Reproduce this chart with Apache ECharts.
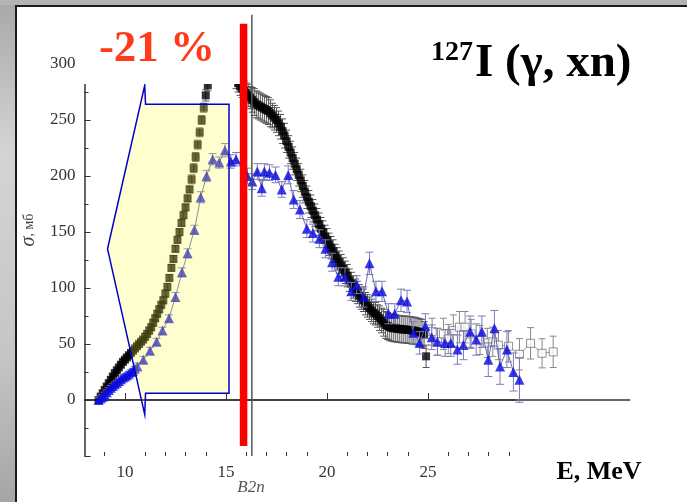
<!DOCTYPE html>
<html>
<head>
<meta charset="utf-8">
<script src="https://cdn.jsdelivr.net/npm/echarts@6/dist/echarts.min.js"></script>
<style>
html, body { margin: 0; padding: 0; background: #b9b9b9; }
#chart { width: 687px; height: 502px; }
</style>
</head>
<body>
<div id="chart"></div>
<script>
// ============================================
// 127I (γ, xn) — cross section vs energy
// ============================================

// black squares (evaluated), E in MeV, sigma in mb
const blackE = [
    8.7, 8.8, 8.9, 9.0, 9.1, 9.2, 9.3, 9.4, 9.5, 9.6,
    9.7, 9.8, 9.9, 10.0, 10.1, 10.2, 10.3, 10.4, 10.5, 10.6,
    10.7, 10.8, 10.9, 11.0, 11.1, 11.2, 11.3, 11.4, 11.5, 11.6,
    11.7, 11.8, 11.9, 12.0, 12.1, 12.2, 12.3, 12.4, 12.5, 12.6,
    12.7, 12.8, 12.9, 13.0, 13.1, 13.2, 13.3, 13.4, 13.5, 13.6,
    13.7, 13.8, 13.9, 14.0, 14.1, 14.2, 14.3, 14.4, 14.5, 14.6,
    14.7, 14.8, 14.9, 15.0, 15.1, 15.2, 15.3, 15.4, 15.5, 15.6,
    15.7, 15.8, 15.9, 16.0, 16.1, 16.2, 16.3, 16.4, 16.5, 16.6,
    16.7, 16.8, 16.9, 17.0, 17.1, 17.2, 17.3, 17.4, 17.5, 17.6,
    17.7, 17.8, 17.9, 18.0, 18.1, 18.2, 18.3, 18.4, 18.5, 18.6,
    18.7, 18.8, 18.9, 19.0, 19.1, 19.2, 19.3, 19.4, 19.5, 19.6,
    19.7, 19.8, 19.9, 20.0, 20.1, 20.2, 20.3, 20.4, 20.5, 20.6,
    20.7, 20.8, 20.9, 21.0, 21.1, 21.2, 21.3, 21.4, 21.5, 21.6,
    21.7, 21.8, 21.9, 22.0, 22.1, 22.2, 22.3, 22.4, 22.5, 22.6,
    22.7, 22.8, 22.9, 23.0, 23.1, 23.2, 23.3, 23.4, 23.5, 23.6,
    23.7, 23.8, 23.9, 24.0, 24.1, 24.2, 24.3, 24.4, 24.5, 24.6,
    24.7, 24.8, 24.9
];
const blackSigma = [
    0, 3, 6, 9, 12, 15, 18, 21, 24, 26.5,
    29, 31.5, 34, 36, 38, 40, 42, 44, 46, 48,
    50, 52, 54, 56.5, 59, 62, 65, 69, 73, 77,
    81, 85, 89, 95, 101, 109, 118, 126, 135, 143,
    150, 158, 165, 172, 180, 188, 197, 207, 217, 228,
    239, 250, 261, 272, 281, 288, 293, 296, 298, 299,
    300, 300, 299, 298, 297, 295, 293, 290, 286, 283,
    280, 278, 276, 274, 272, 270, 268, 266, 264, 263,
    262, 261, 260, 259, 258, 256, 254, 252, 250, 247,
    244, 240, 236, 231, 226, 221, 216, 211, 206, 201,
    196, 191, 186, 181, 177, 173, 169, 165, 161, 157,
    153, 150, 146, 143, 139, 136, 133, 129, 126, 123,
    120, 117, 114, 111, 107, 104, 101, 98, 96, 93,
    91, 89, 86, 84, 82, 80, 78, 77, 75, 73,
    71, 69, 67, 66, 65, 64.5, 64, 64, 63.5, 63.5,
    63, 63, 63, 62.5, 62.5, 62, 62, 61.5, 61, 60.5,
    60, 58, 39
];
const blackErr = [
    2, 2, 2, 2, 2, 2, 2, 2, 2, 2,
    2, 2, 2, 2, 2, 2, 2, 2, 2, 2,
    2, 2, 2, 3, 3, 3, 3, 3, 3, 3,
    3, 3, 3, 3, 3, 3, 3, 3, 3, 3,
    3, 3, 3, 3, 3, 3, 4, 4, 4, 4,
    4, 4, 4, 5, 5, 5, 5, 5, 6, 6,
    6, 6, 6, 6, 6, 6, 7, 7, 8, 8,
    8, 8, 9, 9, 10, 10, 11, 12, 12, 12,
    12, 12, 12, 12, 12, 12, 11, 11, 11, 11,
    11, 11, 11, 10, 10, 10, 10, 10, 10, 10,
    10, 10, 10, 10, 10, 10, 10, 10, 10, 10,
    10, 10, 10, 10, 10, 10, 10, 10, 10, 10,
    10, 10, 10, 10, 10, 10, 10, 10, 10, 10,
    10, 10, 10, 10, 10, 10, 10, 10, 10, 11,
    11, 12, 12, 12, 12, 12, 12, 12, 12, 12,
    12, 12, 12, 12, 12, 12, 12, 12, 12, 12,
    12, 12, 10
];

// open squares (high energy tail)
const openE = [25.2, 25.47, 25.76, 26.0, 26.25, 26.55, 26.83, 27.13, 27.57, 27.93, 28.2, 28.48, 28.98, 29.52, 30.07, 30.64, 31.19];
const openSigma = [61, 52, 59, 54.5, 62, 65, 65, 59, 53.6, 51, 52, 49, 48, 40.8, 50.6, 41.7, 43];
const openErr = [12, 12, 14, 13, 14, 14, 14, 13, 13, 13, 13, 13, 14, 14, 14, 13, 14];

// blue triangles (experiment)
const blueE = [
    8.7, 8.8, 8.9, 9.0, 9.1, 9.2, 9.3, 9.4, 9.5, 9.6, 9.7, 9.8, 9.9, 10.0, 10.1, 10.2, 10.3, 10.4, 10.5,
    10.62, 10.91, 11.24, 11.57, 11.86, 12.18, 12.5, 12.82, 13.1, 13.44, 13.75, 14.04, 14.34, 14.67, 14.95, 15.24, 15.5,
    16.06, 16.3, 16.55, 16.77, 16.9, 17.15, 17.45, 17.76, 18.08, 18.35,
    18.66, 19.0, 19.3, 19.62, 19.92, 20.25, 20.56, 20.89, 21.2, 21.47,
    21.8, 22.1, 22.42, 22.72, 23.04, 23.35, 23.66, 23.96, 24.27, 24.58,
    24.87, 25.18, 25.46, 25.84, 26.12, 26.45, 26.75, 27.08, 27.38, 27.66,
    27.98, 28.28, 28.56, 28.9, 29.22, 29.52
];
const blueSigma = [
    0, 1.5, 3, 5, 7, 9, 11, 12.5, 14, 15.5, 17, 18.5, 20, 21, 22, 23.5, 25, 26, 28,
    30, 36, 44, 52, 62, 73, 92, 114, 131, 152, 181, 200, 215, 212, 223, 213, 215,
    200, 195, 204, 189, 204, 203, 201, 188, 201, 179,
    170, 153, 149, 144, 135, 123, 110, 110, 97, 103,
    92, 122, 97, 97, 77, 77, 89, 88, 60, 51,
    66, 56, 52, 51, 51, 45, 49, 61, 54, 61,
    36, 64, 30, 45, 25, 18
];
const blueErr = [
    2, 2, 2, 2, 2, 2, 2, 2, 2, 2, 2, 2, 2, 2, 2, 2, 2, 2, 2,
    3, 3, 3, 3, 3, 3, 4, 4, 4, 4, 5, 5, 5, 5, 6, 6, 6,
    7, 7, 7, 7, 7, 7, 7, 7, 8, 8,
    8, 8, 8, 8, 8, 8, 8, 8, 8, 8,
    9, 10, 9, 9, 9, 9, 10, 10, 10, 10,
    11, 11, 12, 12, 12, 13, 13, 14, 14, 14,
    15, 16, 16, 16, 17, 20
];

// yellow arrow callout (points in E, sigma)
const arrowE = [11.02, 15.15, 15.15, 11.02, 10.98, 9.14, 10.98];
const arrowSigma = [264, 264, 6, 6, -13, 135, 281];

// reference lines
const zeroLineE = [8, 35];
const zeroLineSigma = [0, 0];
const b2nE = [16.28, 16.28];
const b2nSigma = [-50, 344];
const redE = [15.87, 15.87];
const redSigma = [-41, 336];

// axis ticks
const xMajor = [10, 15, 20, 25];
const xMinor = [9, 11, 12, 13, 14, 16, 17, 18, 19, 21, 22, 23, 24, 26, 27, 28, 29];

const SERIF = '"Liberation Serif", "DejaVu Serif", serif';

const pairs = (xs, ys, es) => xs.map((x, i) => es ? [x, ys[i], es[i]] : [x, ys[i]]);

// error bars with caps
function errorBars(color, capHalf) {
    return function (params, api) {
        const x = api.value(0), y = api.value(1), e = api.value(2);
        const hi = api.coord([x, y + e]);
        const lo = api.coord([x, y - e]);
        const st = { stroke: color, lineWidth: 1 };
        return {
            type: 'group',
            children: [
                { type: 'line', shape: { x1: hi[0], y1: hi[1], x2: lo[0], y2: lo[1] }, style: st },
                { type: 'line', shape: { x1: hi[0] - capHalf, y1: hi[1], x2: hi[0] + capHalf, y2: hi[1] }, style: st },
                { type: 'line', shape: { x1: lo[0] - capHalf, y1: lo[1], x2: lo[0] + capHalf, y2: lo[1] }, style: st }
            ]
        };
    };
}

// one polyline through all points, not clipped to the grid
function polylineSeries(xs, ys, z, style) {
    return {
        type: 'custom', z: z, clip: false, silent: true,
        encode: { x: 0, y: 1 },
        data: [[xs[0], ys[0]]],
        renderItem: function (params, api) {
            return {
                type: 'polyline',
                shape: { points: xs.map((x, i) => api.coord([x, ys[i]])) },
                style: Object.assign({ fill: null }, style)
            };
        }
    };
}

const chart = echarts.init(document.getElementById('chart'));

chart.setOption({
    animation: false,
    backgroundColor: '#ffffff',
    grid: { left: 84.5, right: 172, top: 64, bottom: 46, containLabel: false, outerBoundsMode: 'none' },
    xAxis: [{
        type: 'value', min: 8, max: 29.3,
        axisLine: { lineStyle: { color: '#333', width: 1.5 } },
        axisTick: { inside: true, length: 7, customValues: xMajor, lineStyle: { color: '#333' } },
        axisLabel: { customValues: xMajor, margin: 8, fontFamily: SERIF, fontSize: 17, color: '#333' },
        splitLine: { show: false }
    }, {
        type: 'value', min: 8, max: 29.3, position: 'bottom',
        axisLine: { show: false },
        axisTick: { inside: true, length: 4, customValues: xMinor, lineStyle: { color: '#333' } },
        axisLabel: { show: false },
        splitLine: { show: false }
    }],
    yAxis: {
        type: 'value', min: -50, max: 300, interval: 50,
        axisLine: { show: true, lineStyle: { color: '#333', width: 1.5 } },
        axisTick: { show: true, inside: true, length: 6, lineStyle: { color: '#333' } },
        minorTick: { show: true, splitNumber: 2, length: 4, lineStyle: { color: '#333' } },
        axisLabel: {
            margin: 9, fontFamily: SERIF, fontSize: 17, color: '#333',
            formatter: v => v < 0 ? '' : v
        },
        splitLine: { show: false }
    },
    series: [
        polylineSeries(zeroLineE, zeroLineSigma, 1, { stroke: '#333', lineWidth: 1.5 }),
        {
            type: 'custom', z: 2, renderItem: errorBars('#555', 3.5),
            encode: { x: 0, y: 1 },
            data: pairs(blackE, blackSigma, blackErr)
        },
        {
            type: 'scatter', z: 3, symbol: 'rect', symbolSize: 8,
            itemStyle: { color: '#000' },
            data: pairs(blackE, blackSigma)
        },
        {
            type: 'custom', z: 3, clip: false, renderItem: errorBars('#888', 3.5),
            encode: { x: 0, y: 1 },
            data: pairs(openE, openSigma, openErr)
        },
        polylineSeries(openE, openSigma, 3, { stroke: '#999', lineWidth: 1 }),
        {
            type: 'scatter', z: 4, clip: false, symbol: 'rect', symbolSize: 8,
            itemStyle: { color: '#fff', borderColor: '#777', borderWidth: 1 },
            data: pairs(openE, openSigma)
        },
        {
            type: 'custom', z: 5, clip: false, renderItem: errorBars('#7c7cb8', 4),
            encode: { x: 0, y: 1 },
            data: pairs(blueE, blueSigma, blueErr)
        },
        polylineSeries(blueE, blueSigma, 5, { stroke: '#6b6bb0', lineWidth: 1 }),
        {
            type: 'scatter', z: 6, clip: false, symbol: 'triangle', symbolSize: 10,
            itemStyle: { color: '#0a0ae0' },
            data: pairs(blueE, blueSigma)
        },
        {
            type: 'custom', z: 10, clip: false,
            encode: { x: 0, y: 1 },
            data: [[arrowE[0], arrowSigma[0]]],
            renderItem: function (params, api) {
                const pts = arrowE.map((e, i) => api.coord([e, arrowSigma[i]]));
                return {
                    type: 'polygon',
                    shape: { points: pts },
                    style: { fill: 'rgba(255,250,60,0.25)', stroke: '#0000cc', lineWidth: 1.5 }
                };
            }
        },
        polylineSeries(b2nE, b2nSigma, 12, { stroke: '#555', lineWidth: 1.5 }),
        polylineSeries(redE, redSigma, 120, { stroke: '#ff0000', lineWidth: 7.5 })
    ],
    graphic: [
        // gray frame around the slide panel
        {
            type: 'rect', z: 200, silent: true,
            shape: { x: 0, y: 0, width: 15, height: 502 },
            style: {
                fill: new echarts.graphic.LinearGradient(0, 0, 0, 1, [
                    { offset: 0, color: '#a8a8a8' },
                    { offset: 0.3, color: '#d4d4d4' },
                    { offset: 0.7, color: '#c6c6c6' },
                    { offset: 1, color: '#a6a6a6' }
                ])
            }
        },
        { type: 'rect', z: 200, silent: true, shape: { x: 0, y: 0, width: 687, height: 5 }, style: { fill: '#b4b4b4' } },
        { type: 'line', z: 201, silent: true, shape: { x1: 15, y1: 6, x2: 687, y2: 6 }, style: { stroke: '#1c1c1c', lineWidth: 2 } },
        { type: 'line', z: 201, silent: true, shape: { x1: 16, y1: 5, x2: 16, y2: 502 }, style: { stroke: '#1c1c1c', lineWidth: 2 } },
        // white label box
        { type: 'rect', z: 100, silent: true, shape: { x: 80, y: 7, width: 160, height: 77 }, style: { fill: '#fff' } },
        {
            type: 'text', z: 130, silent: true, x: 157, y: 49,
            style: { text: '-21 %', fill: '#ff3b1c', font: 'bold 45px ' + SERIF, align: 'center', verticalAlign: 'middle' }
        },
        {
            type: 'text', z: 130, silent: true, x: 431, y: 53,
            style: { text: '127', fill: '#000', font: 'bold 28px ' + SERIF, align: 'left', verticalAlign: 'middle' }
        },
        {
            type: 'text', z: 130, silent: true, x: 475, y: 64,
            style: { text: 'I (γ, xn)', fill: '#000', font: 'bold 47px ' + SERIF, align: 'left', verticalAlign: 'middle' }
        },
        {
            type: 'text', z: 130, silent: true, x: 599, y: 472,
            style: { text: 'E, MeV', fill: '#000', font: 'bold 26px ' + SERIF, align: 'center', verticalAlign: 'middle' }
        },
        {
            type: 'text', z: 130, silent: true, x: 251, y: 488,
            style: { text: 'B2n', fill: '#555', font: 'italic 17px ' + SERIF, align: 'center', verticalAlign: 'middle' }
        },
        {
            type: 'text', z: 130, silent: true, x: 29, y: 230, rotation: Math.PI / 2,
            style: {
                text: '{a|σ}{b|, мб}', align: 'center', verticalAlign: 'middle',
                rich: {
                    a: { fontFamily: SERIF, fontSize: 20, fontStyle: 'italic', fill: '#444' },
                    b: { fontFamily: SERIF, fontSize: 14, fill: '#444' }
                }
            }
        }
    ]
});
</script>
</body>
</html>
